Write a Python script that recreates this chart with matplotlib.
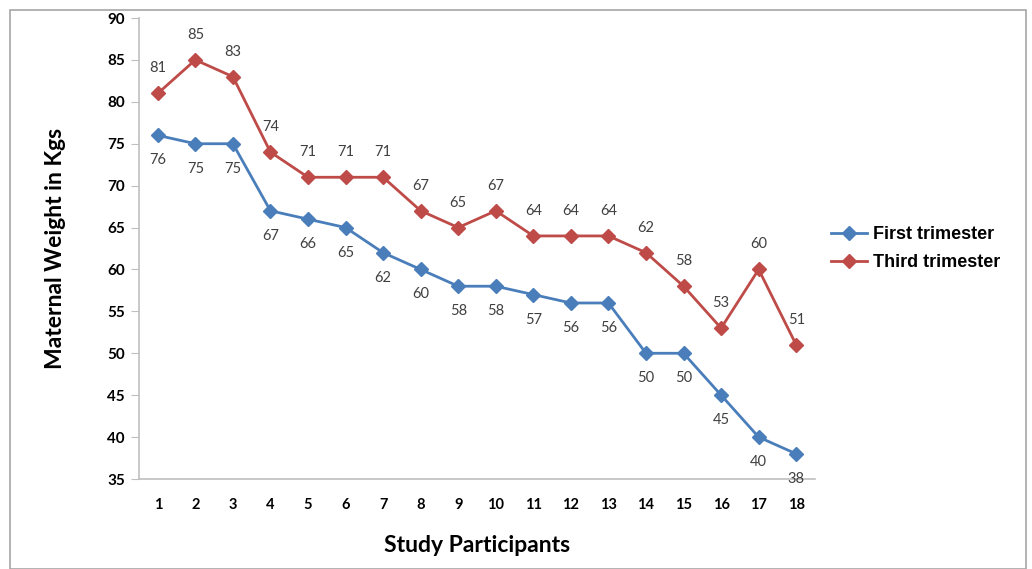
import matplotlib
matplotlib.use("Agg")
import matplotlib.pyplot as plt
from matplotlib.patches import Rectangle

plt.rcParams["font.family"] = ["Lato", "DejaVu Sans"]

participants = list(range(1, 19))
first_trimester = [76, 75, 75, 67, 66, 65, 62, 60, 58, 58, 57, 56, 56, 50, 50, 45, 40, 38]
third_trimester = [81, 85, 83, 74, 71, 71, 71, 67, 65, 67, 64, 64, 64, 62, 58, 53, 60, 51]
y_ticks = list(range(35, 95, 5))

blue = "#4A7EBB"
red = "#BE4B48"

fig = plt.figure(figsize=(10.32, 5.69), dpi=100)
ax = fig.add_axes([139/1032, 1-479/569, (815-139)/1032, (479-18)/569])

ax.plot(participants, first_trimester, color=blue, lw=2.0, marker="D", ms=7.5,
        label="First trimester", zorder=3)
ax.plot(participants, third_trimester, color=red, lw=2.0, marker="D", ms=7.5,
        label="Third trimester", zorder=3)

for x, v in zip(participants, first_trimester):
    ax.annotate(str(v), (x, v), xytext=(0, -18), textcoords="offset points",
                ha="center", va="center", fontsize=10.5, color="#404040")
for x, v in zip(participants, third_trimester):
    ax.annotate(str(v), (x, v), xytext=(0, 18), textcoords="offset points",
                ha="center", va="center", fontsize=10.5, color="#404040")

ax.set_xlim(0.5, 18.5)
ax.set_ylim(35, 90)
ax.set_yticks(y_ticks)
ax.set_xticks(participants)
ax.set_xticklabels([str(p) for p in participants], fontweight="bold", fontsize=10.5)
ax.set_yticklabels([str(t) for t in y_ticks], fontweight="bold", fontsize=11)
ax.tick_params(axis="x", length=0, pad=14)
ax.tick_params(axis="y", length=6, color="#BFBFBF", pad=4)
for s in ["top", "right"]:
    ax.spines[s].set_visible(False)
for s in ["left", "bottom"]:
    ax.spines[s].set_color("#BFBFBF")
    ax.spines[s].set_linewidth(1.2)

ax.set_xlabel("Study Participants", fontsize=16.5, fontweight="bold", labelpad=16)
ax.set_ylabel("Maternal Weight in Kgs", fontsize=16.5, fontweight="bold", labelpad=30)

leg = ax.legend(loc="center left", bbox_to_anchor=(1.0, 0.5), frameon=False,
                prop={"family": "Liberation Sans", "weight": "bold", "size": 13},
                handlelength=2.0, handletextpad=0.3, labelspacing=0.6)

fig.patches.append(Rectangle((10/1032, 0), (1026-10)/1032, 1-10/569,
                             transform=fig.transFigure, fill=False,
                             edgecolor="#A6A6A6", lw=1.2))

fig.savefig("out.png", dpi=100)
